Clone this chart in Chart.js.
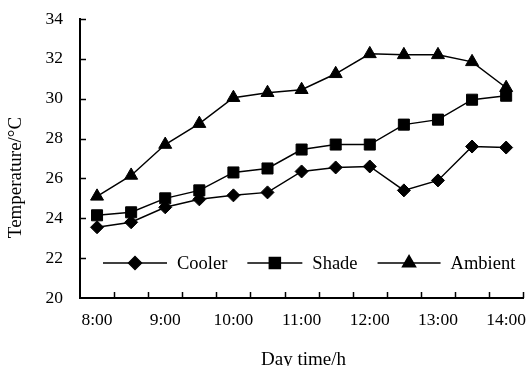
<!DOCTYPE html>
<html>
<head>
<meta charset="utf-8">
<title>Temperature</title>
<script src="https://cdn.jsdelivr.net/npm/chart.js@4.4.0/dist/chart.umd.min.js"></script>
<style>
  html, body { margin: 0; padding: 0; background: #fff; }
  #wrap { width: 532px; height: 366px; }
</style>
</head>
<body>
<div id="wrap"><canvas id="grafTemp" width="532" height="366"></canvas></div>
<script>
/*======== DATOS =============*/
const horas = ['8:00', '8:30', '9:00', '9:30', '10:00', '10:30', '11:00', '11:30', '12:00', '12:30', '13:00', '13:30', '14:00'];
const cooler = [23.55, 23.8, 24.55, 24.95, 25.15, 25.3, 26.35, 26.55, 26.6, 25.4, 25.9, 27.6, 27.55];
const shade = [24.15, 24.3, 25.0, 25.4, 26.3, 26.5, 27.45, 27.7, 27.7, 28.7, 28.95, 29.95, 30.15];
const ambient = [25.1, 26.15, 27.7, 28.75, 30.05, 30.3, 30.45, 31.25, 32.25, 32.2, 32.2, 31.85, 30.55];
const yMin = 20, yMax = 34, yStep = 2;

const serif = "'Liberation Serif', 'Times New Roman', serif";
const negro = '#000';

/*======== TICKS HACIA DENTRO + TITULOS + LEYENDA =============*/
const extras = {
	id: 'extras',
	afterDatasetsDraw(chart){
		const ctx = chart.ctx, area = chart.chartArea;
		const xs = chart.scales.x, ys = chart.scales.y;
		ctx.save();
		ctx.strokeStyle = negro;
		ctx.lineWidth = 1.5;

		// ticks eje x (en los limites de cada categoria)
		const paso = xs.getPixelForValue(1) - xs.getPixelForValue(0);
		for(let i = 0; i < horas.length; i++){
			const px = Math.round(xs.getPixelForValue(i) + paso / 2) + 0.5;
			ctx.beginPath();
			ctx.moveTo(px, area.bottom);
			ctx.lineTo(px, area.bottom - 6);
			ctx.stroke();
		}
		// ticks eje y
		for(let v = yMin + yStep; v <= yMax; v += yStep){
			const py = Math.round(ys.getPixelForValue(v)) + 0.5;
			ctx.beginPath();
			ctx.moveTo(area.left, py);
			ctx.lineTo(area.left + 6, py);
			ctx.stroke();
		}

		// titulos
		ctx.fillStyle = negro;
		ctx.font = '19px ' + serif;
		ctx.textAlign = 'center';
		ctx.textBaseline = 'alphabetic';
		ctx.fillText('Day time/h', (area.left + area.right) / 2 + 2, chart.height - 1);
		ctx.save();
		ctx.translate(21, (area.top + area.bottom) / 2 + 19);
		ctx.rotate(-Math.PI / 2);
		ctx.fillText('Temperature/\u00B0C', 0, 0);
		ctx.restore();

		// leyenda dentro del grafico
		ctx.font = '18.5px ' + serif;
		ctx.textAlign = 'left';
		ctx.textBaseline = 'middle';
		let x = area.left + 23;
		const y = area.bottom - 35;
		chart.data.datasets.forEach(ds => {
			const largo = ds.leyendaLinea;
			ctx.lineWidth = 1.5;
			ctx.beginPath();
			ctx.moveTo(x, y);
			ctx.lineTo(x + largo, y);
			ctx.stroke();
			ctx.fillStyle = negro;
			Chart.helpers.drawPoint(ctx, {
				pointStyle: ds.pointStyle,
				radius: ds.pointRadius,
				borderWidth: 1,
				rotation: 0
			}, x + largo / 2, y);
			ctx.fillStyle = negro;
			ctx.fillText(ds.label, x + largo + 10, y + 1);
			x += largo + 10 + ctx.measureText(ds.label).width + 20;
		});
		ctx.restore();
	}
};

/*======== GRAFICA =============*/
function serie(label, data, estilo, radio, largo){
	return {
		label: label,
		data: data,
		borderColor: negro,
		backgroundColor: negro,
		borderWidth: 1.5,
		pointStyle: estilo,
		pointRadius: radio,
		pointBorderWidth: 1,
		pointBackgroundColor: negro,
		pointBorderColor: negro,
		tension: 0,
		leyendaLinea: largo
	};
}

new Chart(document.getElementById('grafTemp'), {
	type: 'line',
	data: {
		labels: horas,
		datasets: [
			serie('Cooler', cooler, 'rectRot', 6.5, 64),
			serie('Shade', shade, 'rect', 7.8, 55),
			serie('Ambient', ambient, 'triangle', 7.5, 63)
		]
	},
	plugins: [extras],
	options: {
		responsive: false,
		animation: false,
		layout: { padding: { top: 19, right: 4, left: 0, bottom: 0 } },
		plugins: {
			legend: { display: false },
			tooltip: { enabled: false }
		},
		scales: {
			x: {
				offset: true,
				grid: { display: false, drawTicks: false, offset: true },
				border: { display: true, color: negro, width: 2 },
				afterFit(scale){
					scale.height = 68;
					scale.paddingLeft = 0;
					scale.paddingRight = 0;
				},
				ticks: {
					autoSkip: false,
					maxRotation: 0,
					padding: 12,
					color: negro,
					font: { family: serif, size: 17.5 },
					callback(val, i){ return i % 2 === 0 ? horas[i] : ''; }
				}
			},
			y: {
				min: yMin,
				max: yMax,
				grid: { display: false, drawTicks: false },
				border: { display: true, color: negro, width: 2 },
				afterFit(scale){
					scale.width = 80;
					scale.paddingTop = 0;
					scale.paddingBottom = 0;
				},
				ticks: {
					stepSize: yStep,
					padding: 17,
					color: negro,
					font: { family: serif, size: 17.5 }
				}
			}
		}
	}
});
</script>
</body>
</html>
